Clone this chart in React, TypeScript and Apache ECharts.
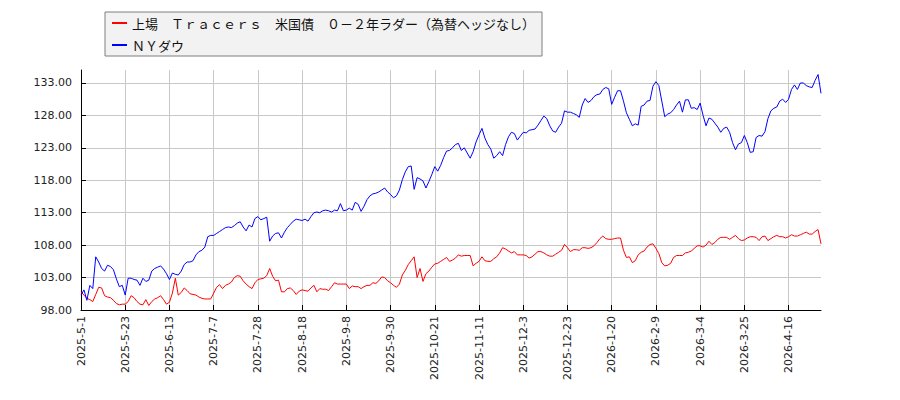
import React, { useEffect, useRef } from "react";
import * as echarts from "echarts";

// 目盛りラベル（15営業日ごと）
const tickLabels = [
  "2025-5-1", "2025-5-23", "2025-6-13", "2025-7-7", "2025-7-28", "2025-8-18",
  "2025-9-8", "2025-9-30", "2025-10-21", "2025-11-11", "2025-12-3", "2025-12-23",
  "2026-1-20", "2026-2-9", "2026-3-4", "2026-3-25", "2026-4-16",
];

const yTicks = [98, 103, 108, 113, 118, 123, 128, 133];

const etfName = "上場　Ｔｒａｃｅｒｓ　米国債　０－２年ラダー（為替ヘッジなし）";
const dowName = "ＮＹダウ";

// 上場 Tracers 米国債 0-2年ラダー（指数化）
const etfValues = [
  100.8, 100.3, 99.8, 99.6, 99.3, 100.4, 101.5, 101.4, 100.2, 100.0,
  99.9, 99.5, 99.0, 98.8, 98.9, 98.9, 99.3, 100.2, 99.9, 99.3,
  98.9, 98.8, 99.6, 98.7, 99.3, 99.7, 99.9, 100.2, 99.6, 98.9,
  99.2, 100.6, 102.9, 100.3, 100.7, 101.4, 101.0, 100.5, 100.4, 100.3,
  100.0, 99.8, 99.7, 99.7, 99.7, 100.6, 101.5, 101.9, 101.3, 101.8,
  102.0, 102.3, 103.0, 103.3, 103.2, 102.5, 102.0, 101.6, 101.3, 102.2,
  102.7, 102.8, 102.9, 103.3, 104.4, 103.2, 102.5, 102.6, 100.8, 100.8,
  101.3, 101.4, 101.0, 100.4, 100.9, 101.1, 101.0, 100.9, 101.4, 101.8,
  100.8, 101.3, 101.2, 101.2, 101.0, 101.6, 102.2, 102.0, 102.0, 102.0,
  102.0, 101.3, 101.7, 101.6, 101.6, 101.3, 101.6, 101.8, 101.8, 102.2,
  102.1, 102.5, 103.1, 103.0, 102.5, 102.2, 101.8, 101.5, 102.0, 103.4,
  104.1, 105.0, 105.6, 106.2, 103.0, 104.4, 102.4, 103.6, 104.0, 104.6,
  105.1, 105.2, 105.5, 105.8, 106.1, 105.5, 105.7, 106.0, 106.5, 106.3,
  106.4, 106.4, 106.4, 104.8, 105.2, 105.5, 106.2, 105.6, 105.5, 105.5,
  105.9, 106.2, 106.8, 107.6, 107.4, 107.1, 106.8, 107.0, 106.5, 106.5,
  106.5, 106.4, 106.0, 106.2, 106.6, 107.0, 107.0, 106.8, 106.5, 106.3,
  106.3, 106.6, 106.9, 107.2, 108.1, 107.6, 107.0, 107.3, 107.3, 107.2,
  107.6, 107.6, 107.5, 107.6, 107.9, 108.4, 109.0, 109.4, 109.0, 108.9,
  108.9, 109.0, 109.1, 109.1, 107.2, 106.1, 106.2, 105.3, 105.6, 106.5,
  106.9, 107.1, 107.7, 108.1, 108.2, 107.5, 106.7, 105.3, 104.8, 104.9,
  105.2, 106.1, 106.4, 106.4, 106.4, 106.8, 106.9, 107.1, 107.5, 107.9,
  107.9, 107.7, 108.0, 108.6, 108.1, 108.4, 108.9, 109.2, 109.2, 109.2,
  108.9, 109.2, 109.5, 109.0, 108.7, 108.8, 109.1, 109.3, 109.3, 109.2,
  108.7, 109.3, 109.4, 108.7, 109.0, 109.3, 109.5, 109.3, 109.3, 109.1,
  109.3, 109.6, 109.4, 109.4, 109.6, 109.8, 110.0, 109.7, 109.7, 110.1,
  110.4, 108.2,
];

// NYダウ（指数化）
const dowValues = [
  100.3, 101.1, 99.5, 101.8, 101.3, 106.2, 105.4, 104.4, 104.0, 104.9,
  104.7, 104.2, 102.8, 101.6, 101.8, 100.3, 102.9, 102.9, 102.7, 102.6,
  101.8, 102.9, 102.4, 102.6, 104.0, 104.4, 104.6, 104.8, 104.3, 103.6,
  102.7, 103.7, 103.5, 103.4, 104.0, 105.0, 105.4, 105.4, 105.6, 106.5,
  107.0, 107.2, 107.7, 109.3, 109.5, 109.5, 109.8, 110.1, 110.4, 110.7,
  110.8, 110.7, 111.0, 111.4, 111.6, 110.8, 110.2, 111.1, 110.8, 112.1,
  112.4, 111.9, 112.1, 112.3, 108.6, 109.4, 109.8, 109.9, 109.1, 110.0,
  110.7, 111.2, 111.7, 112.0, 111.9, 111.8, 112.0, 111.7, 112.4, 113.0,
  113.1, 113.0, 113.3, 113.4, 113.3, 113.1, 113.4, 113.3, 114.4, 113.3,
  113.4, 113.7, 113.4, 114.6, 114.3, 113.2, 114.0, 115.0, 115.6, 115.9,
  116.0, 116.2, 116.5, 116.8, 116.2, 115.8, 115.3, 115.6, 116.5, 118.1,
  119.3, 120.1, 120.2, 116.6, 118.4, 118.2, 117.9, 116.8, 117.8, 118.9,
  120.1, 119.4, 120.3, 121.5, 122.5, 122.6, 123.0, 123.5, 123.7, 122.6,
  123.0, 122.2, 121.4, 122.4, 123.9, 125.0, 126.0, 124.5, 123.5, 122.8,
  121.4, 121.8, 122.4, 121.8, 123.5, 124.7, 125.4, 125.2, 124.2, 124.8,
  125.4, 125.3, 125.7, 125.8, 125.9, 126.5, 127.2, 127.9, 127.5, 126.4,
  125.6, 125.4, 126.2, 126.8, 128.7, 128.5, 128.5, 128.3, 128.1, 127.7,
  129.6, 130.6, 130.0, 130.3, 130.9, 131.2, 131.3, 132.0, 132.3, 132.1,
  129.7, 130.8, 131.8, 131.8, 130.2, 128.4, 127.4, 126.4, 126.7, 126.5,
  129.4, 129.6, 130.2, 130.3, 132.5, 133.2, 132.6, 130.2, 127.8, 128.2,
  128.4, 128.9, 129.6, 130.2, 128.5, 130.4, 130.4, 129.1, 129.2, 128.9,
  129.9, 128.0, 126.4, 127.6, 127.4, 126.8, 126.2, 125.4, 126.0, 126.2,
  125.4, 123.8, 122.7, 123.6, 123.8, 124.9, 123.8, 122.3, 122.4, 124.6,
  124.9, 124.8, 125.5, 127.5, 128.7, 129.1, 129.3, 130.2, 130.5, 130.0,
  130.5, 132.0, 132.7, 132.0, 133.0, 133.0, 132.6, 132.4, 132.3, 133.4,
  134.3, 131.4,
];

const tickStep = 15;
const categories = etfValues.map((_, i) =>
  i % tickStep === 0 ? tickLabels[i / tickStep] : `${tickLabels[Math.floor(i / tickStep)]}+${i % tickStep}`,
);

const App = () => {
  const chartRef = useRef<HTMLDivElement>(null);

  useEffect(() => {
    document.body.style.margin = "0";
    const chart = echarts.init(chartRef.current, null, { renderer: "svg" });

    const labelFont = "'DejaVu Sans', sans-serif";

    chart.setOption({
      animation: false,
      backgroundColor: "#ffffff",
      legend: {
        orient: "vertical",
        left: 105,
        top: 12,
        padding: [3, 7, 3, 7],
        itemGap: 6,
        itemWidth: 15,
        itemHeight: 2,
        icon: "rect",
        backgroundColor: "#f2f2f2",
        borderColor: "#7f7f7f",
        borderWidth: 1,
        textStyle: {
          fontFamily: "'Noto Sans CJK JP', sans-serif",
          fontSize: 13,
          lineHeight: 16,
          color: "#111",
        },
        data: [etfName, dowName],
      },
      grid: { left: 81, right: 79, top: 70, bottom: 90 },
      xAxis: {
        type: "category",
        data: categories,
        boundaryGap: false,
        axisLine: { lineStyle: { color: "#000", width: 1 } },
        axisTick: { inside: true, length: 5, interval: tickStep - 1, lineStyle: { color: "#000" } },
        axisLabel: {
          interval: tickStep - 1,
          rotate: 90,
          margin: 6,
          fontSize: 11,
          fontFamily: labelFont,
          color: "#222",
        },
        splitLine: { show: true, interval: tickStep - 1, lineStyle: { color: "#c8c8c8", width: 1 } },
      },
      yAxis: {
        type: "value",
        min: 98,
        max: 135,
        interval: 5,
        axisLine: { show: true, lineStyle: { color: "#000", width: 1 } },
        axisTick: { show: true, inside: true, length: 5, lineStyle: { color: "#000" } },
        axisLabel: {
          showMaxLabel: false,
          margin: 9,
          fontSize: 11,
          fontFamily: labelFont,
          color: "#222",
          formatter: (v: number) => v.toFixed(2),
        },
        splitLine: {
          show: true,
          lineStyle: {
            color: yTicks.map(() => "#c8c8c8").concat(["rgba(0,0,0,0)"]),
            width: 1,
          },
        },
      },
      series: [
        {
          name: etfName,
          type: "line",
          data: etfValues,
          showSymbol: false,
          lineStyle: { color: "#ff0000", width: 1 },
          itemStyle: { color: "#ff0000" },
        },
        {
          name: dowName,
          type: "line",
          data: dowValues,
          showSymbol: false,
          lineStyle: { color: "#0000ff", width: 1 },
          itemStyle: { color: "#0000ff" },
        },
      ],
    });

    return () => chart.dispose();
  }, []);

  return <div ref={chartRef} style={{ width: "900px", height: "400px" }} />;
};

export default App;
